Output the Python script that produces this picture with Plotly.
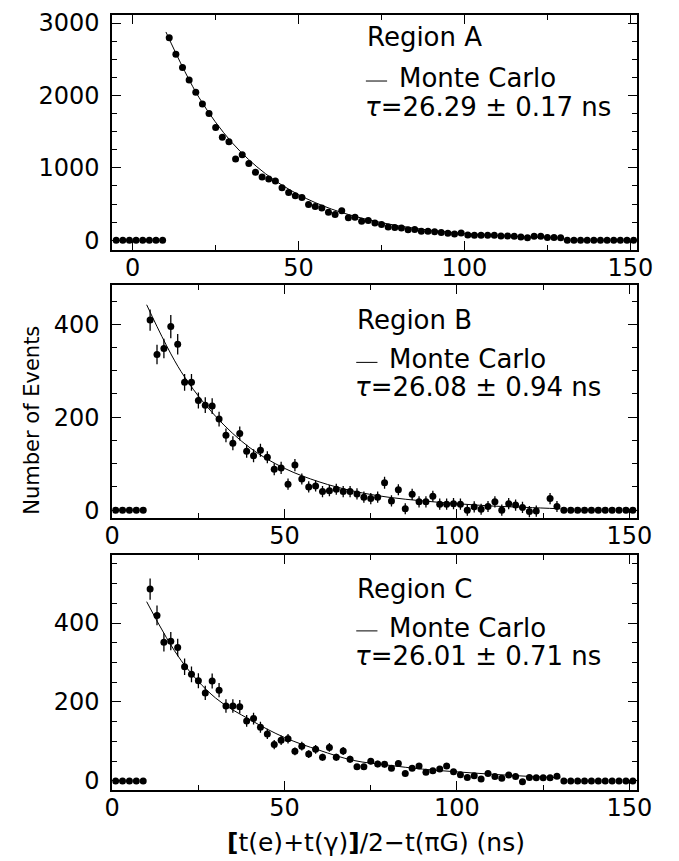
# Lifetime spectra for regions A, B and C, each with a Monte Carlo curve.

# %%
import plotly.graph_objs as go

# %%
# Data (bins are 2 ns wide)

bins_a = list(range(-5, 152, 2))
bins_bc = list(range(1, 152, 2))

counts_a = [0, 0, 0, 0, 0, 0, 0, 0,
            2796, 2568, 2386, 2214, 2046, 1882, 1750, 1559, 1422, 1359,
            1122, 1181, 1059, 941, 873, 845, 818, 725, 659, 616,
            590, 493, 466, 445, 386, 356, 407, 312, 318, 261,
            272, 238, 218, 184, 177, 168, 145, 150, 123, 123,
            118, 108, 97, 88, 100, 72, 68, 68, 68, 68,
            59, 59, 54, 45, 36, 54, 54, 40, 40, 36,
            0, 0, 0, 0, 0, 0, 0, 0, 0, 0, 0]

counts_b = [0, 0, 0, 0, 0,
            409, 335, 348, 395, 357, 275, 275, 236, 226, 224,
            196, 161, 144, 165, 127, 117, 129, 114, 88, 91,
            56, 97, 67, 50, 52, 40, 42, 45, 40, 40,
            35, 28, 25, 28, 59, 20, 44, 3, 34, 18,
            18, 30, 13, 13, 14, 13, 0, 7, 2, 8,
            18, 0, 14, 11, 6, -3, -2, None, 25, 8,
            0, 0, 0, 0, 0, 0, 0, 0, 0, 0, 0]

errors_b = [0, 0, 0, 0, 0,
            23, 21, 21, 25, 22, 18, 18, 17, 17, 17,
            16, 15, 15, 15, 14, 14, 14, 13, 13, 13,
            12, 13, 12, 12, 12, 12, 12, 12, 12, 12,
            12, 12, 12, 12, 13, 12, 12, 12, 12, 12,
            12, 12, 12, 12, 12, 12, 12, 12, 12, 12,
            12, 12, 12, 12, 12, 12, 12, 0, 12, 12,
            0, 0, 0, 0, 0, 0, 0, 0, 0, 0, 0]

counts_c = [0, 0, 0, 0, 0,
            486, 419, 351, 354, 338, 289, 270, 254, 223, 253,
            230, 190, 190, 188, 152, 158, 136, 119, 92, 103,
            107, 75, 88, 68, 80, 60, 85, 60, 76, 55,
            36, 36, 50, 43, 42, 32, 44, 19, 32, 38,
            22, 26, 30, 38, 23, 16, 9, 13, 5, 19,
            11, 7, 15, 11, -2, 9, 8, 8, 8, 12,
            0, 0, 0, 0, 0, 0, 0, 0, 0, 0, 0]

errors_c = [0, 0, 0, 0, 0,
            27, 25, 23, 23, 22, 21, 20, 19, 18, 19,
            18, 17, 17, 17, 15, 15, 14, 13, 12, 12,
            12, 10, 11, 10, 11, 9, 11, 9, 10, 9,
            7, 7, 8, 8, 8, 7, 8, 5, 7, 7,
            6, 6, 6, 7, 6, 5, 4, 4, 3, 5,
            4, 3, 5, 4, 2, 4, 3, 3, 3, 4,
            0, 0, 0, 0, 0, 0, 0, 0, 0, 0, 0]

# Monte Carlo curves, read every 10 ns
curve_t = [10, 20, 30, 40, 50, 60, 70, 80, 90, 100, 110, 120, 130]
curve_a = [2877, 1970, 1345, 920, 630, 430, 295, 200, 137, 94, 64, 44, 30]
curve_b = [442, 298, 202, 134, 90, 61, 41, 28, 20, 14, 9, 6, 3]
curve_c = [454, 305, 210, 155, 110, 78, 52, 40, 30, 23, 17, 12, 8]

regions = ["Region A", "Region B", "Region C"]
taus = ["26.29", "26.08", "26.01"]
tau_errs = ["0.17", "0.94", "0.71"]

# %%
# Figure geometry, in pixels of the 679x861 window

W, H = 679, 861
FONT = "DejaVu Sans"


def px(x):
    return x / W


def py(y):
    return 1 - y / H


panels = [
    dict(x=bins_a, y=counts_a, err=None, curve=curve_a,
         top=10, bottom=248, xr=[-6.2, 152], yr=[-132, 3113],
         dtick=1000, minor=250, text_x=370, text_y=(32, 74, 103)),
    dict(x=bins_bc, y=counts_b, err=errors_b, curve=curve_b,
         top=284, bottom=520, xr=[0, 152.2], yr=[-17.6, 483.7],
         dtick=200, minor=50, text_x=360, text_y=(319, 359, 387)),
    dict(x=bins_bc, y=counts_c, err=errors_c, curve=curve_c,
         top=557, bottom=795, xr=[0, 152.2], yr=[-22.5, 572.5],
         dtick=200, minor=50, text_x=360, text_y=(592, 631, 659)),
]

fig = go.Figure()
annotations = []
shapes = []

for i, p in enumerate(panels):
    n = "" if i == 0 else str(i + 1)
    xa, ya = "x" + n, "y" + n

    err = None
    if p["err"] is not None:
        err = dict(type="data", array=p["err"], width=0,
                   thickness=1.3, color="black")

    fig.add_trace(go.Scatter(
        x=p["x"], y=p["y"], mode="markers", xaxis=xa, yaxis=ya,
        marker=dict(size=7, color="black"),
        error_y=err, showlegend=False,
    ))
    fig.add_trace(go.Scatter(
        x=curve_t, y=p["curve"], mode="lines", xaxis=xa, yaxis=ya,
        line=dict(color="black", width=1, shape="spline"),
        showlegend=False,
    ))

    axis_common = dict(
        showline=True, linecolor="black", linewidth=1.8, mirror="allticks",
        ticks="inside", ticklen=9, tickwidth=1.3, tickcolor="black",
        showgrid=False, zeroline=False,
        tickfont=dict(family=FONT, size=24, color="black"),
    )
    fig.update_layout({
        "xaxis" + n: dict(
            axis_common, domain=[px(108), px(652)], range=p["xr"],
            anchor=ya, tickvals=[0, 50, 100, 150], ticklabelstandoff=-5,
            minor=dict(dtick=25, tick0=0, ticklen=5, ticks="inside",
                       tickcolor="black", tickwidth=1.3),
        ),
        "yaxis" + n: dict(
            axis_common, domain=[py(p["bottom"]), py(p["top"])],
            range=p["yr"], anchor=xa, dtick=p["dtick"], tick0=0,
            ticklabelstandoff=6, ticklabeloverflow="allow",
            minor=dict(dtick=p["minor"], tick0=0, ticklen=5, ticks="inside",
                       tickcolor="black", tickwidth=1.3),
        ),
    })

    tx = p["text_x"]
    y_reg, y_mc, y_tau = p["text_y"]
    annotations.append(dict(
        text=regions[i], x=px(tx), y=py(y_reg), xref="paper", yref="paper",
        xanchor="left", yanchor="middle", showarrow=False,
        font=dict(family=FONT, size=26, color="black")))
    annotations.append(dict(
        text="Monte Carlo", x=px(tx + 33), y=py(y_mc), xref="paper",
        yref="paper", xanchor="left", yanchor="middle", showarrow=False,
        font=dict(family=FONT, size=26, color="black")))
    annotations.append(dict(
        text="<i>τ</i>=" + taus[i] + " ± " + tau_errs[i] + " ns",
        x=px(tx - 2), y=py(y_tau), xref="paper", yref="paper",
        xanchor="left", yanchor="middle", showarrow=False,
        font=dict(family=FONT, size=26, color="black")))
    shapes.append(dict(
        type="line", xref="paper", yref="paper",
        x0=px(tx + 1), x1=px(tx + 23), y0=py(y_mc + 3), y1=py(y_mc + 3),
        line=dict(color="black", width=1)))

annotations.append(dict(
    text="Number of Events", x=px(25), y=py(421), xref="paper", yref="paper",
    xanchor="center", yanchor="middle", textangle=-90, showarrow=False,
    font=dict(family=FONT, size=21, color="black")))
annotations.append(dict(
    text="<b>[</b>t(e)+t(γ)<b>]</b>/2−t(πG) (ns)", x=px(382), y=py(848),
    xref="paper", yref="paper", xanchor="center", yanchor="middle",
    showarrow=False, font=dict(family=FONT, size=25, color="black")))

fig.update_layout(
    width=W, height=H,
    margin=dict(l=0, r=0, t=0, b=0),
    paper_bgcolor="white", plot_bgcolor="white",
    annotations=annotations, shapes=shapes,
)

# drop the default page margin so the figure fills the window exactly
fig.write_html("out.html", config={"displayModeBar": False},
               post_script="document.body.style.margin = '0';")
